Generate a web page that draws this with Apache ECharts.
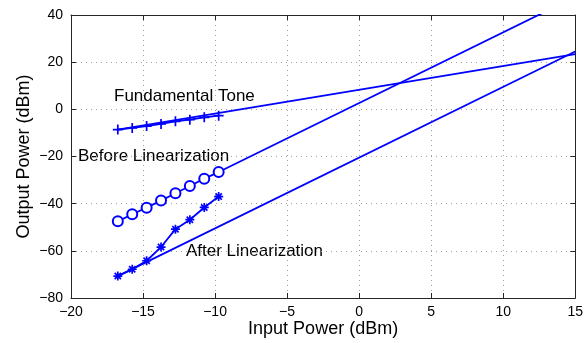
<!DOCTYPE html>
<html><head><meta charset="utf-8">
<script src="https://cdn.jsdelivr.net/npm/echarts@6/dist/echarts.min.js"></script>
<style>html,body{margin:0;padding:0;background:#fff}#c{width:586px;height:343px}</style>
</head><body><div id="c"></div>
<script>
// Data
const inputPower = [-16.75, -15.75, -14.75, -13.75, -12.75, -11.75, -10.75, -9.75];
const fundamental = [-8.6, -7.9, -7.1, -6.2, -5.1, -4.4, -3.4, -2.7];
const beforeLin = [-47.5, -44.5, -41.7, -38.7, -35.6, -32.5, -29.4, -26.6];
const afterLin = [-70.7, -67.8, -64.2, -58.4, -50.8, -46.8, -41.6, -37.0];
// extrapolated asymptote lines [x, y]
const fundExtrap = [[-16.75, -8.6], [15, 23.4]];
const beforeExtrap = [[-9.75, -26.6], [15, 47.65]];
const afterExtrap = [[-16.75, -70.7], [15, 24.55]];
const xTicks = [-20, -15, -10, -5, 0, 5, 10, 15];
const yTicks = [-80, -60, -40, -20, 0, 20, 40];
const labels = ['Fundamental Tone', 'Before Linearization', 'After Linearization'];

const BLUE = '#0000ff';
const FONT = 'Liberation Sans, Arial, sans-serif';
const LW = 1.8;
const fmt = v => String(v).replace('-', '\u2212');
const zip = (xs, ys) => xs.map((x, i) => [x, ys[i]]);

const chart = echarts.init(document.getElementById('c'), null, {renderer: 'canvas'});
const axisCommon = {
  type: 'value',
  axisLine: {show: true, onZero: false, lineStyle: {color: '#262626', width: 1}},
  axisTick: {show: true, inside: true, length: 5, lineStyle: {color: '#262626'}},
};
const plus = 'path://M5,0L5,10M0,5L10,5';
const star = 'path://M5,0L5,10M0,5L10,5M1.5,1.5L8.5,8.5M1.5,8.5L8.5,1.5';

chart.setOption({
  animation: false,
  textStyle: {fontFamily: FONT},
  grid: {left: 71, right: 10, top: 15, bottom: 45},
  xAxis: [
    Object.assign({}, axisCommon, {
      min: xTicks[0], max: xTicks[xTicks.length - 1], interval: 5, position: 'bottom',
      axisLabel: {fontSize: 14, color: '#000', margin: 7, formatter: fmt, fontFamily: FONT},
      splitLine: {show: true, lineStyle: {color: '#a0a0a0', type: [1, 4], width: 1}},
      name: 'Input Power (dBm)', nameLocation: 'middle', nameGap: 22, nameMoveOverlap: false,
      nameTextStyle: {fontSize: 18, color: '#000', fontFamily: FONT}
    }),
    Object.assign({}, axisCommon, {
      min: xTicks[0], max: xTicks[xTicks.length - 1], interval: 5, position: 'top',
      axisLabel: {show: false}, splitLine: {show: false}
    })
  ],
  yAxis: [
    Object.assign({}, axisCommon, {
      min: yTicks[0], max: yTicks[yTicks.length - 1], interval: 20, position: 'left',
      axisLabel: {fontSize: 14, color: '#000', margin: 8, formatter: fmt, fontFamily: FONT},
      splitLine: {show: true, lineStyle: {color: '#a0a0a0', type: [1, 4], width: 1}},
      name: 'Output Power (dBm)', nameLocation: 'middle', nameGap: 38, nameMoveOverlap: false,
      nameTextStyle: {fontSize: 18, color: '#000', fontFamily: FONT}
    }),
    Object.assign({}, axisCommon, {
      min: yTicks[0], max: yTicks[yTicks.length - 1], interval: 20, position: 'right',
      axisLabel: {show: false}, splitLine: {show: false}
    })
  ],
  series: [
    {type: 'line', data: fundExtrap, showSymbol: false, symbol: 'none', lineStyle: {color: BLUE, width: LW}, clip: true},
    {type: 'line', data: beforeExtrap, showSymbol: false, symbol: 'none', lineStyle: {color: BLUE, width: LW}, clip: true},
    {type: 'line', data: afterExtrap, showSymbol: false, symbol: 'none', lineStyle: {color: BLUE, width: LW}, clip: true},
    {type: 'line', data: zip(inputPower, fundamental), symbol: plus, symbolSize: 10,
      lineStyle: {color: BLUE, width: LW}, itemStyle: {color: BLUE, borderColor: BLUE, borderWidth: 1.7}},
    {type: 'line', data: zip(inputPower, beforeLin), symbol: 'emptyCircle', symbolSize: 10,
      lineStyle: {color: BLUE, width: LW}, itemStyle: {color: BLUE, borderColor: BLUE, borderWidth: 1.7}},
    {type: 'line', data: zip(inputPower, afterLin), symbol: star, symbolSize: 9,
      lineStyle: {color: BLUE, width: LW}, itemStyle: {color: BLUE, borderColor: BLUE, borderWidth: 1.7}}
  ],
  graphic: [
    {type: 'text', left: 114, top: 88, style: {text: labels[0], font: '17px ' + FONT, fill: '#000'}},
    {type: 'text', left: 78, top: 148, style: {text: labels[1], font: '17px ' + FONT, fill: '#000'}},
    {type: 'text', left: 186, top: 243, style: {text: labels[2], font: '17px ' + FONT, fill: '#000'}}
  ]
});
</script></body></html>
